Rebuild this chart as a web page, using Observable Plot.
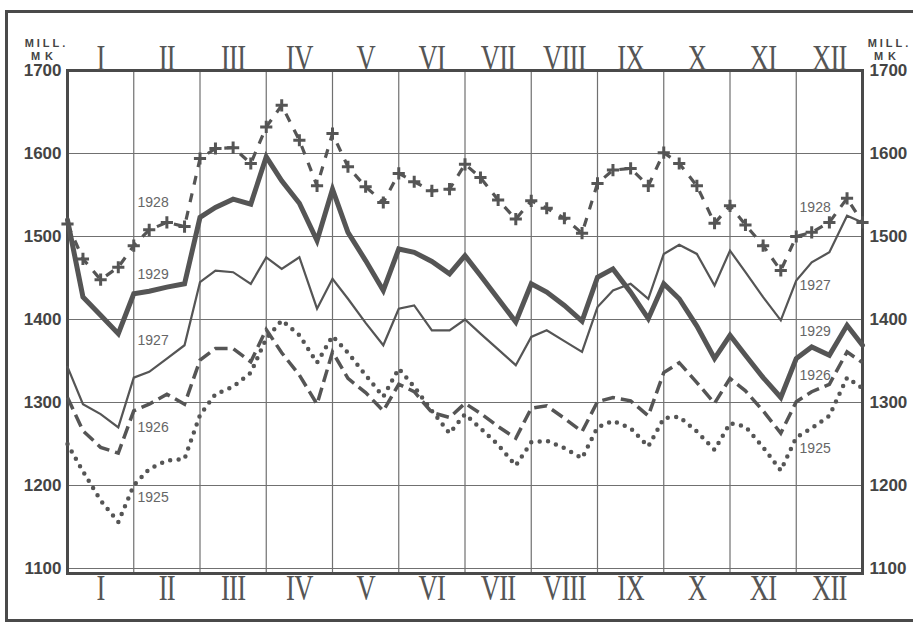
<!DOCTYPE html>
<html>
<head>
<meta charset="utf-8">
<script src="https://cdn.jsdelivr.net/npm/d3@7"></script>
<script src="https://cdn.jsdelivr.net/npm/@observablehq/plot@0.6"></script>
<style>
  html, body { margin: 0; padding: 0; background: #fff; }
  #wrap { position: relative; width: 913px; height: 622px; overflow: hidden; background: #fff; }
  #wrap svg { position: absolute; left: 0; top: 0; }
  #border { position: absolute; left: 5px; top: 10px; width: 1000px; height: 612px;
            border: 3px solid #4a4a4a; box-sizing: border-box; pointer-events: none; }
</style>
</head>
<body>
<div id="wrap"><div id="border"></div></div>
<script>
// Month labels (Roman numerals) and y tick values
const months = ["I","II","III","IV","V","VI","VII","VIII","IX","X","XI","XII"];
const yTicks = [1100, 1200, 1300, 1400, 1500, 1600, 1700];
// weekly report days within each month (7th, 15th, 23rd, end of month)
const reportDays = [7, 15, 23, 30];

// Values in million marks: first value = end of previous December,
// then 4 values per month (7th, 15th, 23rd, end of month)
const v1925 = [1250,
  1217, 1182, 1156, 1200,
  1220, 1230, 1232, 1285,
  1310, 1319, 1336, 1377,
  1399, 1381, 1348, 1380,
  1360, 1333, 1307, 1341,
  1319, 1290, 1263, 1286,
  1269, 1249, 1224, 1252,
  1254, 1245, 1233, 1270,
  1278, 1269, 1247, 1281,
  1283, 1265, 1243, 1275,
  1271, 1246, 1218, 1258,
  1269, 1284, 1330, 1317];
const v1926 = [1306,
  1266, 1246, 1239, 1290,
  1298, 1310, 1298, 1351,
  1365, 1365, 1349, 1388,
  1360, 1333, 1298, 1361,
  1329, 1312, 1290, 1322,
  1313, 1288, 1282, 1299,
  1287, 1271, 1257, 1293,
  1296, 1281, 1265, 1301,
  1306, 1302, 1284, 1336,
  1348, 1324, 1299, 1329,
  1314, 1290, 1263, 1301,
  1313, 1322, 1361, 1348];
const v1927 = [1343,
  1298, 1286, 1270, 1330,
  1337, 1353, 1369, 1445,
  1459, 1457, 1443, 1475,
  1461, 1475, 1413, 1449,
  1425, 1396, 1369, 1413,
  1417, 1387, 1387, 1400,
  1383, 1364, 1345, 1379,
  1387, 1374, 1361, 1415,
  1435, 1443, 1425, 1479,
  1490, 1479, 1441, 1483,
  1457, 1427, 1399, 1447,
  1469, 1481, 1525, 1517];
const v1928 = [1515,
  1473, 1448, 1463, 1489,
  1508, 1517, 1512, 1594,
  1606, 1607, 1588, 1632,
  1658, 1616, 1561, 1624,
  1584, 1560, 1541, 1576,
  1566, 1555, 1557, 1587,
  1571, 1544, 1521, 1543,
  1534, 1522, 1504, 1564,
  1580, 1582, 1561, 1601,
  1588, 1561, 1516, 1537,
  1514, 1489, 1459, 1500,
  1505, 1517, 1546, 1517];
const v1929 = [1520,
  1427, 1405, 1383, 1431,
  1434, 1439, 1443, 1523,
  1535, 1545, 1539, 1596,
  1567, 1540, 1495, 1557,
  1505, 1471, 1435, 1485,
  1481, 1470, 1455, 1477,
  1453, 1425, 1397, 1443,
  1433, 1417, 1398, 1451,
  1461, 1433, 1401, 1443,
  1425, 1392, 1353, 1381,
  1357, 1330, 1306, 1353,
  1367, 1357, 1393, 1369];

// Year annotations (x in months, y in million marks)
const labelYears  = ["1928","1929","1927","1926","1925", "1928","1927","1929","1926","1925"];
const labelX      = [1.057, 1.057, 1.057, 1.057, 1.057, 11.05, 11.05, 11.05, 11.05, 11.05];
const labelV      = [1541, 1454, 1375, 1270, 1186, 1535, 1441, 1385, 1333, 1244];

// ---- build tables ----
const xPos = [0];
months.forEach((m, k) => reportDays.forEach(d => xPos.push(k + d / 30)));
const toRows = (vals, year) => vals.map((v, i) => ({x: xPos[i], v, year}));
const r1925 = toRows(v1925, "1925");
const r1926 = toRows(v1926, "1926");
const r1927 = toRows(v1927, "1927");
const r1928 = toRows(v1928, "1928");
const r1929 = toRows(v1929, "1929");
const labels = labelYears.map((t, i) => ({t, x: labelX[i], v: labelV[i]}));
const monthBounds = months.slice(1).map((_, i) => i + 1);

const ink = "#555";
const chart = Plot.plot({
  width: 913, height: 622,
  marginLeft: 67, marginRight: 51, marginTop: 70, marginBottom: 49,
  x: {domain: [0, 12], axis: null},
  y: {domain: [1094, 1700], axis: null},
  style: {background: "transparent", fontFamily: "'Liberation Sans', sans-serif", overflow: "visible"},
  marks: [
    Plot.ruleX(monthBounds, {stroke: "#707070", strokeWidth: 1.2}),
    Plot.ruleY(yTicks.slice(0, -1), {stroke: "#707070", strokeWidth: 1.2}),
    Plot.frame({stroke: "#4a4a4a", strokeWidth: 3}),
    Plot.line(r1925, {x: "x", y: "v", stroke: ink, strokeWidth: 4.5, strokeDasharray: "0,8.5", strokeLinecap: "round"}),
    Plot.line(r1926, {x: "x", y: "v", stroke: ink, strokeWidth: 3.5, strokeDasharray: "13,6", strokeLinecap: "butt", strokeLinejoin: "miter", strokeMiterlimit: 4}),
    Plot.line(r1927, {x: "x", y: "v", stroke: ink, strokeWidth: 2.2, strokeLinejoin: "miter", strokeMiterlimit: 4}),
    Plot.line(r1928, {x: "x", y: "v", stroke: ink, strokeWidth: 3.2, strokeDasharray: "9,9", strokeLinecap: "butt"}),
    Plot.dot(r1928, {x: "x", y: "v", symbol: "plus", r: 4, stroke: ink, strokeWidth: 3}),
    Plot.line(r1929, {x: "x", y: "v", stroke: ink, strokeWidth: 5, strokeLinejoin: "miter", strokeMiterlimit: 4}),
    Plot.text(labels, {x: "x", y: "v", text: "t", textAnchor: "start", fontSize: 14, fill: "#666"}),
    // month labels
    Plot.text(months, {x: (d, i) => i + 0.5, text: d => d, frameAnchor: "top", dy: -25,
      fontFamily: "'Liberation Serif', serif", fontSize: 35, fill: ink}),
    Plot.text(months, {x: (d, i) => i + 0.5, text: d => d, frameAnchor: "bottom", dy: 26,
      fontFamily: "'Liberation Serif', serif", fontSize: 35, fill: ink}),
    // y tick labels both sides
    Plot.text(yTicks, {x: 0, y: d => d, text: d => String(d), dx: -6, textAnchor: "end",
      fontSize: 17, fontWeight: "bold", fill: "#444"}),
    Plot.text(yTicks, {x: 12, y: d => d, text: d => String(d), dx: 7, textAnchor: "start",
      fontSize: 17, fontWeight: "bold", fill: "#444"}),
    // unit labels
    Plot.text(["MILL."], {frameAnchor: "top-left", dx: -21, dy: -31, textAnchor: "middle", fontSize: 11, fontWeight: "bold", fill: "#444"}),
    Plot.text(["MK"], {frameAnchor: "top-left", dx: -23, dy: -18, textAnchor: "middle", fontSize: 11, fontWeight: "bold", fill: "#444"}),
    Plot.text(["MILL."], {frameAnchor: "top-right", dx: 27, dy: -31, textAnchor: "middle", fontSize: 11, fontWeight: "bold", fill: "#444"}),
    Plot.text(["MK"], {frameAnchor: "top-right", dx: 25, dy: -18, textAnchor: "middle", fontSize: 11, fontWeight: "bold", fill: "#444"})
  ]
});

// condense Roman numerals horizontally; space the unit labels
const monthSet = new Set(months);
d3.select(chart).selectAll("text").each(function() {
  const t = this.textContent;
  if (monthSet.has(t)) {
    this.setAttribute("transform", (this.getAttribute("transform") || "") + " scale(0.76,1)");
    this.style.letterSpacing = "-1px";
  } else if (t === "MILL.") {
    this.style.letterSpacing = "3px";
  } else if (t === "MK") {
    this.style.letterSpacing = "5px";
  }
});

document.getElementById("wrap").prepend(chart);
</script>
</body>
</html>
